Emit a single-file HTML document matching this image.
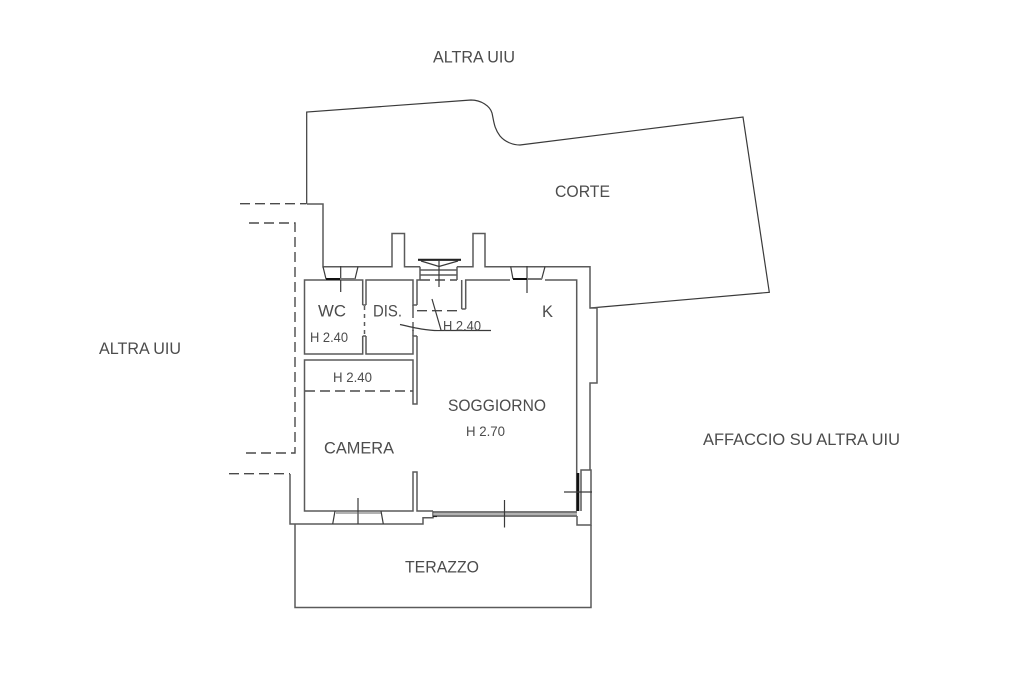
<!DOCTYPE html>
<html>
<head>
<meta charset="utf-8">
<style>
html,body{margin:0;padding:0;background:#fff;width:1024px;height:683px;overflow:hidden}
svg{display:block}
text{font-family:"Liberation Sans",sans-serif;fill:#4c4c4c;font-size:17px}
text.s{font-size:14px}
.l{fill:none;stroke:#5a5a5a;stroke-width:1.5}
.k{fill:none;stroke:#3a3a3a;stroke-width:1.2}
.d{fill:none;stroke:#4a4a4a;stroke-width:1.4;stroke-dasharray:10 5}
</style>
</head>
<body>
<svg width="1024" height="683" viewBox="0 0 1024 683" xmlns="http://www.w3.org/2000/svg">
<rect width="1024" height="683" fill="#fff"/>
<!-- courtyard -->
<path class="k" d="M306.7 204V112L471 100C481 100 490 106 492 113C494 122 494 128 500 136C505 142 513 145 520 145L743 117L769.3 292.3L590 308"/>
<!-- outer wall -->
<path class="l" d="M306.7 204H323V266.7H392V233.5H404.5V266.7H420"/>
<path class="l" d="M457 266.7H473V233.5H485V266.7H590V308H597V383H590V470"/>
<path class="l" d="M581 511V470H591V525H577V516"/>
<path class="l" d="M290 474V524H423V517.7H433V511"/>
<!-- dashed outer -->
<path class="d" d="M240 203.7H306"/>
<path class="d" d="M249 223H295V453H241"/>
<path class="d" d="M229 473.7H290"/>
<!-- terrace -->
<path class="l" d="M295 524V607.5H591V525"/>
<!-- WC -->
<path class="l" d="M362.7 305V280H304.5V354H362.7V336"/>
<path class="l" d="M366 305V280H413V305H417M366 305H362.7M366 336H362.7"/>
<path class="l" d="M366 336V354H413V336H417"/>
<path class="l" stroke-dasharray="4 4" d="M364.5 306V336"/>
<!-- camera -->
<path class="l" d="M304.5 391V360H413V404H417V336"/>
<path class="l" d="M304.5 391V511H413V472H417V511H433"/>
<path class="d" stroke-dasharray="9 5" d="M305 391H413"/>
<!-- soggiorno -->
<path class="l" d="M417 305V280H420M465.7 309V280H510M545 280H576.7V511"/>
<path class="l" d="M461.7 309V280M461.7 309H465.7M413 305V318M413 330V336"/>
<path class="d" stroke-dasharray="8 4" d="M420 280H457"/>
<path class="d" stroke-dasharray="9 4" d="M417 310.7H462"/>
<!-- entry -->
<path d="M418 259.8H461" stroke="#222" stroke-width="2.2" fill="none"/>
<path class="k" d="M421 261L439 266.5L458 261"/>
<path class="l" d="M420 266.7V280M457 266.7V280M420 270H457M420 275H457"/>
<path class="k" d="M439 260V287"/>
<!-- door swing / H 2.40 -->
<path class="k" d="M400 324.5C415 328 428 331 441 330.5H491"/>
<path class="k" d="M432 299L441 330M413 322V331"/>
<!-- WC window -->
<path class="k" d="M323 266.7L326 279M358 266.7L355 279M340.7 266V292"/>
<path d="M326 279H340" stroke="#111" stroke-width="2" fill="none"/>
<path d="M340 279H355" stroke="#777" stroke-width="2" fill="none"/>
<!-- K window -->
<path class="k" d="M510.7 266.7L513 279M545 266.7L541.7 279M527 266V293"/>
<path d="M513 279H527" stroke="#111" stroke-width="2" fill="none"/>
<path d="M527 279H542" stroke="#777" stroke-width="2" fill="none"/>
<!-- camera window -->
<path class="k" d="M335 511L332.7 524M381 511L383.3 524M358 498V524"/>
<path d="M336 513H381" stroke="#666" stroke-width="1" fill="none"/>
<!-- patio window -->
<path d="M433 512H577M433 516H577" stroke="#666" stroke-width="1.8" fill="none"/>
<path d="M433 514H577" stroke="#999" stroke-width="1.6" fill="none"/>
<path class="k" d="M504.5 500V527.5"/>
<path d="M578 473V511" stroke="#111" stroke-width="2.6" fill="none"/>
<path class="k" d="M564 492H592"/>
<path d="M433 516.5H437" stroke="#222" stroke-width="1.2" fill="none"/>
<!-- labels -->
<text x="433" y="62.5" textLength="82" lengthAdjust="spacingAndGlyphs">ALTRA UIU</text>
<text x="99" y="354" textLength="82" lengthAdjust="spacingAndGlyphs">ALTRA UIU</text>
<text x="703" y="445" textLength="197" lengthAdjust="spacingAndGlyphs">AFFACCIO SU ALTRA UIU</text>
<text x="555" y="197" textLength="55" lengthAdjust="spacingAndGlyphs">CORTE</text>
<text x="318" y="316.5" textLength="28" lengthAdjust="spacingAndGlyphs">WC</text>
<text x="373" y="316.5" textLength="29" lengthAdjust="spacingAndGlyphs">DIS.</text>
<text class="s" x="310" y="342" textLength="38" lengthAdjust="spacingAndGlyphs">H 2.40</text>
<text class="s" x="443" y="330.5" textLength="38" lengthAdjust="spacingAndGlyphs">H 2.40</text>
<text x="542" y="317" textLength="11" lengthAdjust="spacingAndGlyphs">K</text>
<text class="s" x="333" y="382" textLength="39" lengthAdjust="spacingAndGlyphs">H 2.40</text>
<text x="448" y="411" textLength="98" lengthAdjust="spacingAndGlyphs">SOGGIORNO</text>
<text class="s" x="466" y="436" textLength="39" lengthAdjust="spacingAndGlyphs">H 2.70</text>
<text x="324" y="453.5" textLength="70" lengthAdjust="spacingAndGlyphs">CAMERA</text>
<text x="405" y="572.5" textLength="74" lengthAdjust="spacingAndGlyphs">TERAZZO</text>
</svg>
</body>
</html>
